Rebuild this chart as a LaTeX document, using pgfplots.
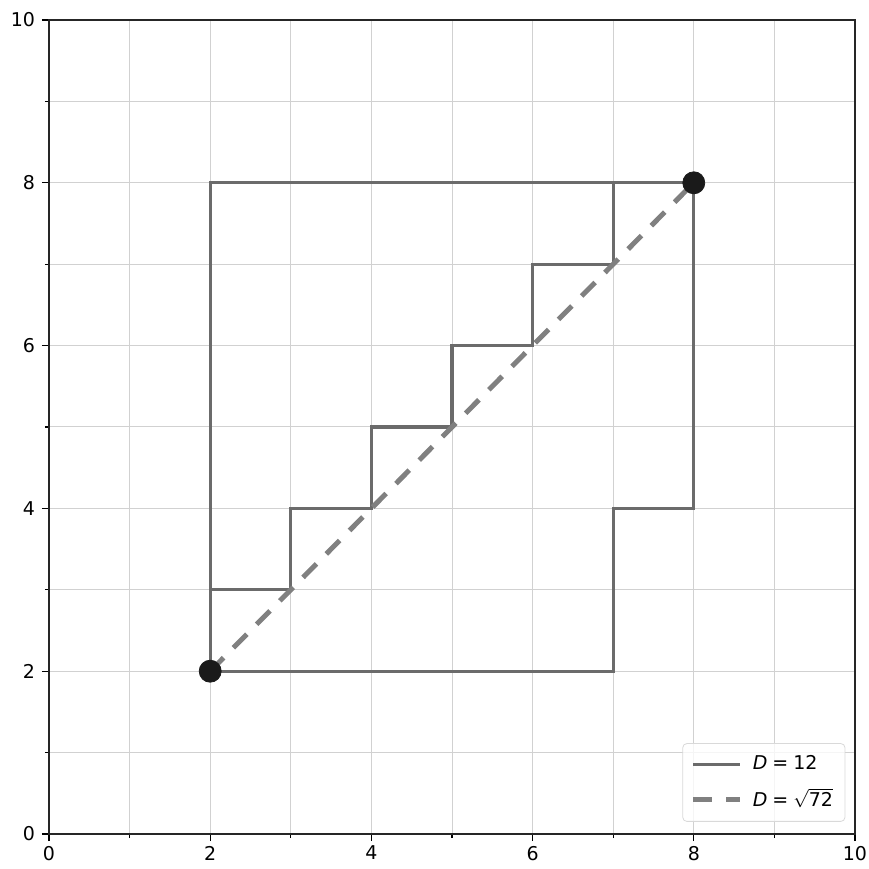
\documentclass[border=0pt]{standalone}
\usepackage{fontspec}
\setmainfont{DejaVu Sans}
\usepackage{pgfplots}
\pgfplotsset{compat=1.18}
\definecolor{pathgray}{HTML}{6B6B6B}
\definecolor{dashgray}{HTML}{808080}
\definecolor{dotblack}{HTML}{1A1A1A}
\begin{document}
\begin{tikzpicture}
\begin{axis}[
  name=ax,
  scale only axis,
  width=403pt, height=407pt,
  xmin=0, xmax=10, ymin=0, ymax=10,
  xtick={0,2,...,10}, ytick={0,2,...,10},
  minor xtick={1,3,...,9}, minor ytick={1,3,...,9},
  grid=both,
  major grid style={draw=black!18, line width=0.5pt},
  minor grid style={draw=black!18, line width=0.5pt},
  tick align=outside,
  tick pos=left,
  major tick length=3.5pt,
  minor tick length=2pt,
  every tick/.style={black, line width=0.6pt},
  axis line style={line width=0.6pt, black!85},
  tick label style={font=\fontsize{9.5}{11}\selectfont},
  xticklabel style={yshift=1pt},
  /pgf/number format/assume math mode=true,
  legend style={font=\fontsize{9.5}{11}\selectfont, draw=black!15, rounded corners=2pt, fill=white, fill opacity=0.8, text opacity=1, row sep=4pt, inner xsep=4pt, inner ysep=4pt, at={(0.988,0.015)}, anchor=south east},
  legend cell align=left,
  legend image code/.code={\draw[#1] (0cm,0cm) -- (23.5pt,0cm);},
]
% box path
\addplot[pathgray, line width=1.6pt, forget plot] coordinates {(2,2) (2,8) (8,8)};
\addplot[pathgray, line width=1.6pt] coordinates {(2,2) (7,2) (7,4) (8,4) (8,8)};
\addlegendentry{\hspace{3pt}\textit{D}\hspace{2.5pt}=\hspace{2.5pt}12}
% staircase
\addplot[pathgray, line width=1.6pt, forget plot] coordinates {(2,2) (2,3) (3,3) (3,4) (4,4) (4,5) (5,5) (5,6) (6,6) (6,7) (7,7) (7,8) (8,8)};
% diagonal
\addplot[dashgray, line width=2.5pt, dash pattern=on 9.5pt off 7pt] coordinates {(2,2) (8,8)};
\addlegendentry{\hspace{3pt}\textit{D}\hspace{2.5pt}=\hspace{2.5pt}$\sqrt{\mbox{72}}$}
% endpoints
\addplot[only marks, mark=*, mark size=5.5pt, color=dotblack, forget plot] coordinates {(2,2) (8,8)};
\end{axis}
\pgfresetboundingbox
\path (ax.south west) ++(-24.5pt,-17.5pt) rectangle ([shift={(7pt,10pt)}]ax.north east);
\end{tikzpicture}
\end{document}
